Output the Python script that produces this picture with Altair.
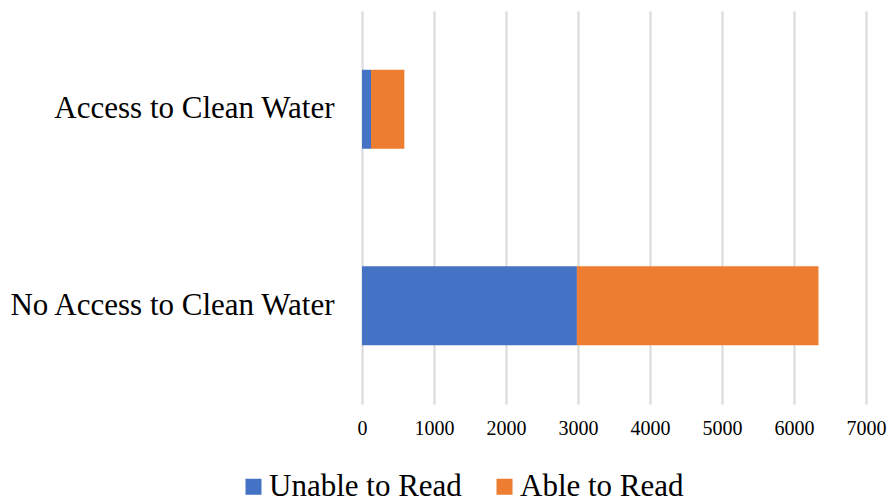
import altair as alt
import pandas as pd

# Survey counts by clean-water access and reading ability
categories = ["Access to Clean Water", "No Access to Clean Water"]
series = ["Unable to Read", "Able to Read"]
unable_to_read = [125, 2985]
able_to_read = [463, 3355]

rows = []
for i, cat in enumerate(categories):
    rows.append({"group": cat, "status": series[0], "count": unable_to_read[i], "order": 0})
    rows.append({"group": cat, "status": series[1], "count": able_to_read[i], "order": 1})
df = pd.DataFrame(rows)

font = "Liberation Serif"

chart = (
    alt.Chart(df)
    .mark_bar(size=79)
    .encode(
        y=alt.Y(
            "group:N",
            sort=categories,
            title=None,
            axis=alt.Axis(
                labelFont=font,
                labelFontSize=31,
                labelColor="#000000",
                labelPadding=28,
                labelLimit=400,
                ticks=False,
                domain=False,
                grid=False,
            ),
        ),
        x=alt.X(
            "count:Q",
            stack="zero",
            scale=alt.Scale(domain=[0, 7000], nice=False),
            title=None,
            axis=alt.Axis(
                values=list(range(0, 7001, 1000)),
                format="d",
                labelFont=font,
                labelFontSize=20,
                labelColor="#000000",
                labelPadding=14,
                labelFlush=False,
                labelOverlap=False,
                ticks=False,
                domain=False,
                grid=True,
                gridColor="#d9d9d9",
                gridWidth=2,
            ),
        ),
        color=alt.Color(
            "status:N",
            sort=series,
            scale=alt.Scale(domain=series, range=["#4472C4", "#ED7D31"]),
            legend=alt.Legend(
                title=None,
                orient="none",
                direction="horizontal",
                legendX=-124,
                legendY=460,
                symbolType="square",
                symbolSize=256,
                symbolStrokeWidth=0,
                labelFont=font,
                labelFontSize=31,
                labelColor="#000000",
                labelOffset=0,
                columnPadding=27,
                labelLimit=300,
            ),
        ),
        order=alt.Order("order:Q"),
    )
    .properties(
        width=504,
        height=393,
        autosize=alt.AutoSizeParams(type="none"),
        padding={"left": 362, "top": 11, "right": 25, "bottom": 100},
    )
    .configure(background="#ffffff")
    .configure_view(stroke=None)
)

chart.save("out.html", embed_options={"renderer": "svg", "actions": False})
